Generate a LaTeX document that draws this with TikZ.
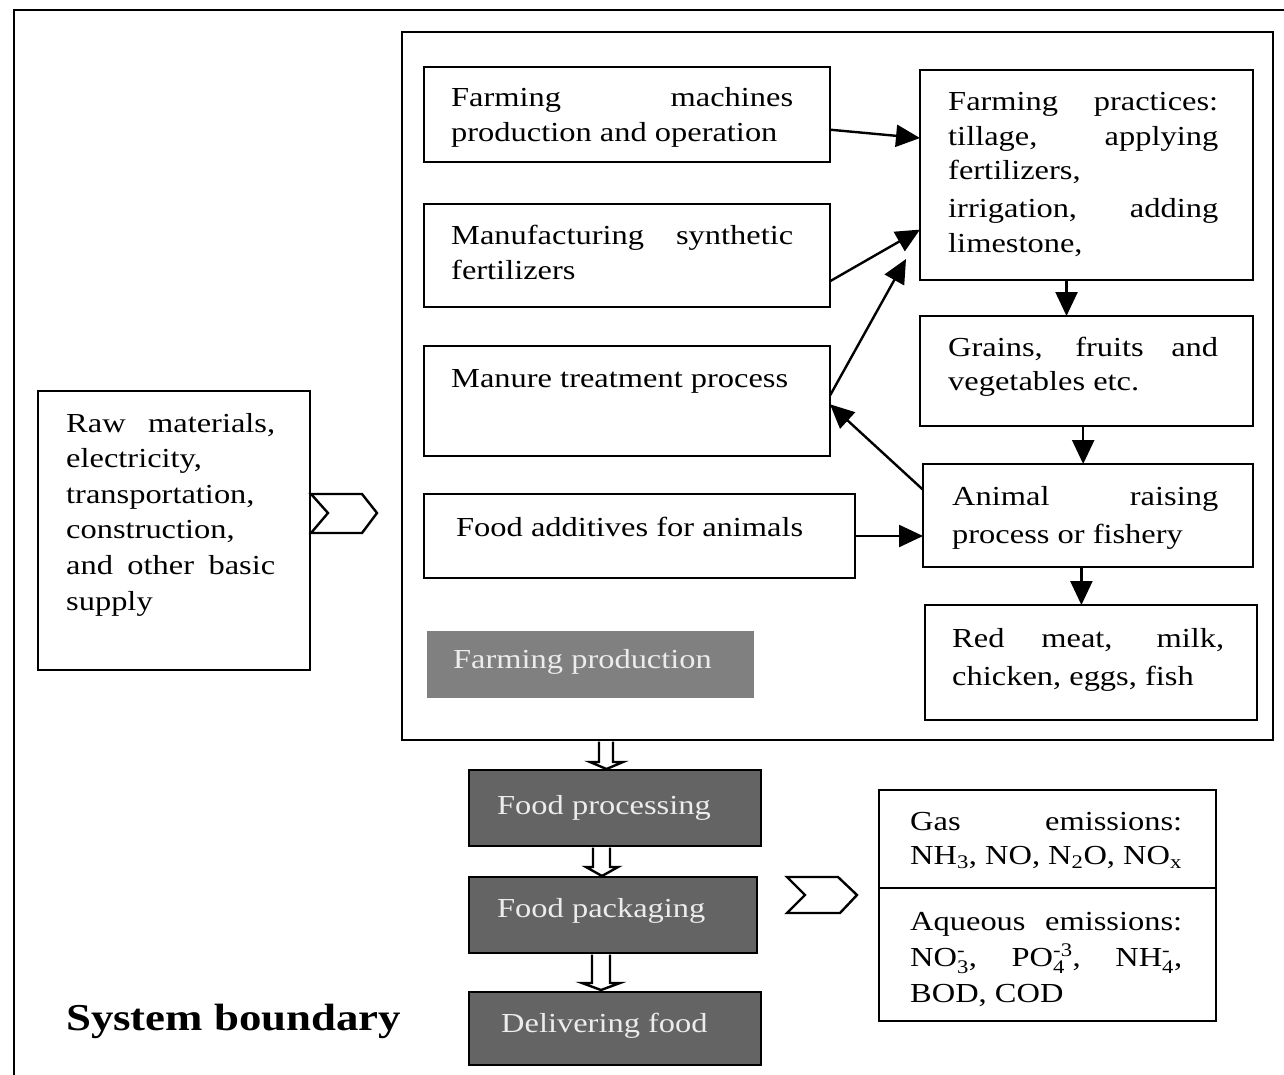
\documentclass[tikz,border=0pt]{standalone}
\usepackage{fontspec}
\usepackage{amsmath}
\setmainfont{Liberation Serif}[FakeStretch=1.18]
\usetikzlibrary{calc,arrows.meta}
\definecolor{lightbox}{RGB}{128,128,128}
\definecolor{darkbox}{RGB}{100,100,100}
\definecolor{boxtext}{RGB}{236,236,236}
\newcommand\sbsp[2]{$^{\text{#2}}_{\text{#1}}$}
\hyphenpenalty=10000
\exhyphenpenalty=10000
\begin{document}
\begin{tikzpicture}[x=1pt,y=-1pt,
  box/.style={draw, line width=2.6pt, inner sep=0pt, outer sep=0pt, anchor=north west},
  graybox/.style={fill=lightbox, inner sep=0pt, outer sep=0pt, anchor=north west},
  darkbx/.style={box, fill=darkbox},
  txt/.style={anchor=base west, inner sep=0pt, align=justify,
    font=\fontsize{27.5}{34.5}\selectfont},
  wtxt/.style={txt, text=boxtext},
  arr/.style={line width=2.4pt, -{Triangle[length=24pt,width=22pt]}},
  hollow/.style={draw, fill=white, line width=2.4pt, line join=miter},
]
\useasboundingbox (0,0) rectangle (1284,1075);
\fill[white] (0,0) rectangle (1284,1075);
\clip (0,0) rectangle (1284,1075);

% system boundary
\draw[line width=2.8pt] (14,10) rectangle (1300,1095);

% farming production frame
\node[box, line width=2.8pt, minimum width=871pt, minimum height=708pt] (farm) at (402,32) {};

% boxes
\node[box, minimum width=272pt, minimum height=279pt] (raw) at (38,391) {};
\node[box, minimum width=406pt, minimum height=95pt]  (fm)  at (424,67) {};
\node[box, minimum width=406pt, minimum height=103pt] (mf)  at (424,204) {};
\node[box, minimum width=406pt, minimum height=110pt] (mt)  at (424,346) {};
\node[box, minimum width=431pt, minimum height=84pt]  (fa)  at (424,494) {};
\node[graybox, minimum width=327pt, minimum height=67pt] (fp) at (427,631) {};
\node[box, minimum width=333pt, minimum height=210pt] (pr)  at (920,70) {};
\node[box, minimum width=333pt, minimum height=110pt] (gr)  at (920,316) {};
\node[box, minimum width=330pt, minimum height=103pt] (an)  at (923,464) {};
\node[box, minimum width=332pt, minimum height=115pt] (rm)  at (925,605) {};
\node[darkbx, minimum width=292pt, minimum height=76pt] (proc)  at (469,770) {};
\node[darkbx, minimum width=288pt, minimum height=76pt] (pack)  at (469,877) {};
\node[darkbx, minimum width=292pt, minimum height=73pt] (deliv) at (469,992) {};
\node[box, minimum width=337pt, minimum height=98pt]  (gas) at (879,790) {};
\node[box, minimum width=337pt, minimum height=133pt] (aq)  at (879,888) {};

% texts
\node[txt, text width=209pt, font=\fontsize{27.5}{35.6}\selectfont] (traw) at ($(raw.north west)+(28,41)$)
  {Raw materials,\linebreak electricity,\\ transportation,\\ construction,\\ and other basic\linebreak supply};
\node[txt, text width=342pt] (tfm) at ($(fm.north west)+(27,40)$)
  {Farming machines\linebreak production and operation};
\node[txt, text width=342pt] (tmf) at ($(mf.north west)+(27,41)$)
  {Manufacturing synthetic\linebreak fertilizers};
\node[txt, text width=360pt] (tmt) at ($(mt.north west)+(27,41)$)
  {Manure treatment process};
\node[txt, text width=380pt] (tfa) at ($(fa.north west)+(32,42)$)
  {Food additives for animals};
\node[wtxt, text width=300pt] (tfp) at ($(fp.north west)+(26,37)$)
  {Farming production};
\node[txt, text width=270pt] (tpr) at ($(pr.north west)+(28,41)$)
  {Farming practices:\linebreak tillage, applying\linebreak fertilizers,\\[3.5pt] irrigation, adding\linebreak limestone,};
\node[txt, text width=270pt] (tgr) at ($(gr.north west)+(28,40)$)
  {Grains, fruits and\linebreak vegetables etc.};
\node[txt, text width=266pt, font=\fontsize{27.5}{38}\selectfont] (tan) at ($(an.north west)+(29,41)$)
  {Animal raising\linebreak process or fishery};
\node[txt, text width=272pt, font=\fontsize{27.5}{38}\selectfont] (trm) at ($(rm.north west)+(27,42)$)
  {Red meat, milk,\linebreak chicken, eggs, fish};
\node[wtxt, text width=260pt] (tproc) at ($(proc.north west)+(28,44)$) {Food processing};
\node[wtxt, text width=260pt] (tpack) at ($(pack.north west)+(28,40)$) {Food packaging};
\node[wtxt, text width=260pt] (tdeliv) at ($(deliv.north west)+(32,40)$) {Delivering food};
\node[txt, text width=272pt] (tgas) at ($(gas.north west)+(31,40)$)
  {Gas emissions:\linebreak NH\textsubscript{3}, NO, N\textsubscript{2}O, NO\textsubscript{x}};
\node[txt, text width=272pt, font=\fontsize{27.5}{36}\selectfont] (taq) at ($(aq.north west)+(31,42)$)
  {Aqueous emissions:\linebreak NO\sbsp{3}{-}, PO\sbsp{4}{-3}, NH\sbsp{4}{-},\linebreak BOD, COD};
\node[anchor=base west, inner sep=0pt, font=\fontsize{38}{42}\selectfont\bfseries] (sb) at (66,1030) {System boundary};

% arrows
\draw[arr] ($(fm.north east)!0.66!(fm.south east)$) -- ($(pr.north west)!0.324!(pr.south west)$);
\draw[arr] ($(mf.north east)!0.75!(mf.south east)$) -- ($(pr.north west)!0.76!(pr.south west)$);
\coordinate (t3) at (906,259);
\draw[arr] ($(mt.north east)!0.45!(mt.south east)$) -- (t3);
\draw[arr] ($(an.north west)!0.25!(an.south west)$) -- ($(mt.north east)!0.53!(mt.south east)$);
\draw[arr] (fa.east) -- (fa.east -| an.west);
\coordinate (p6) at ($(pr.south west)!0.44!(pr.south east)$);
\draw[arr] (p6) -- (p6 |- gr.north);
\coordinate (p7) at ($(gr.south west)!0.49!(gr.south east)$);
\draw[arr] (p7) -- (p7 |- an.north);
\coordinate (p8) at ($(an.south west)!0.48!(an.south east)$);
\draw[arr] (p8) -- (p8 |- rm.north);

% hollow arrows
\draw[hollow] (599,741.5) -- (599,762) -- (590,762) -- (606.5,769) -- (623,762) -- (613,762) -- (613,741.5);
\draw[hollow] (593,847.5) -- (593,867) -- (586,867) -- (602,876) -- (618,867) -- (610,867) -- (610,847.5);
\draw[hollow] (592,954.5) -- (592,983) -- (582,983) -- (601,990) -- (620,983) -- (610,983) -- (610,954.5);

% chevrons
\draw[hollow] (311,494) -- (362,494) -- (377,513) -- (362,533) -- (311,533) -- (328,513) -- cycle;
\draw[hollow] (787,877) -- (838,877) -- (857,895) -- (840,913) -- (787,913) -- (805,895) -- cycle;
\end{tikzpicture}
\end{document}
